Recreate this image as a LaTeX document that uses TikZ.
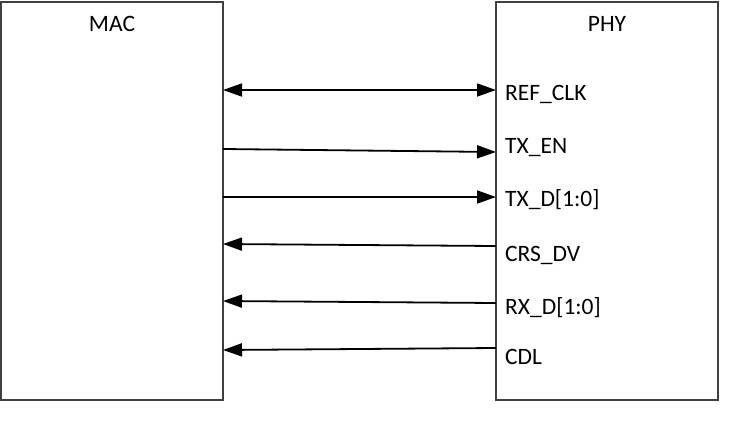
\documentclass[tikz,border=0pt]{standalone}
\usepackage{fontspec}
\setmainfont{Carlito}
\usetikzlibrary{arrows.meta}
\begin{document}
\begin{tikzpicture}[x=1pt,y=-1pt,
  blk/.style={draw=black!75,line width=1.1pt,fill=white,minimum width=222pt,minimum height=398pt,inner sep=0pt},
  lbl/.style={anchor=base west,inner sep=0pt,font=\fontsize{23.5}{28}\selectfont},
  ttl/.style={anchor=base,inner sep=0pt,font=\fontsize{23.5}{28}\selectfont},
  sig/.style={line width=1.8pt,-{Triangle[length=19pt,width=13pt]}},
  bsig/.style={line width=1.8pt,{Triangle[length=19pt,width=13pt]}-{Triangle[length=19pt,width=13pt]}}]
\useasboundingbox (0,0) rectangle (740,421);
\node[blk] (mac) at (112,201) {};
\node[blk] (phy) at (607,201) {};
\node[ttl] (mact) at (112,31) {MAC};
\node[ttl] (phyt) at (607,31) {PHY};
\node[lbl] (l1) at (505,100) {REF\_CLK};
\node[lbl] (l2) at (505,153) {TX\_EN};
\node[lbl] (l3) at (505,206) {TX\_D[1:0]};
\node[lbl] (l4) at (505,261) {CRS\_DV};
\node[lbl] (l5) at (505,314) {RX\_D[1:0]};
\node[lbl] (l6) at (505,364) {CDL};
\coordinate (a1) at (223,90);  \coordinate (b1) at (496,90);
\coordinate (a2) at (223,149); \coordinate (b2) at (496,152);
\coordinate (a3) at (223,197); \coordinate (b3) at (496,197);
\coordinate (a4) at (223,244); \coordinate (b4) at (496,246);
\coordinate (a5) at (223,301); \coordinate (b5) at (496,303);
\coordinate (a6) at (223,350); \coordinate (b6) at (496,348);
\draw[bsig] (a1) -- (b1);
\draw[sig] (a2) -- (b2);
\draw[sig] (a3) -- (b3);
\draw[sig] (b4) -- (a4);
\draw[sig] (b5) -- (a5);
\draw[sig] (b6) -- (a6);
\end{tikzpicture}
\end{document}
